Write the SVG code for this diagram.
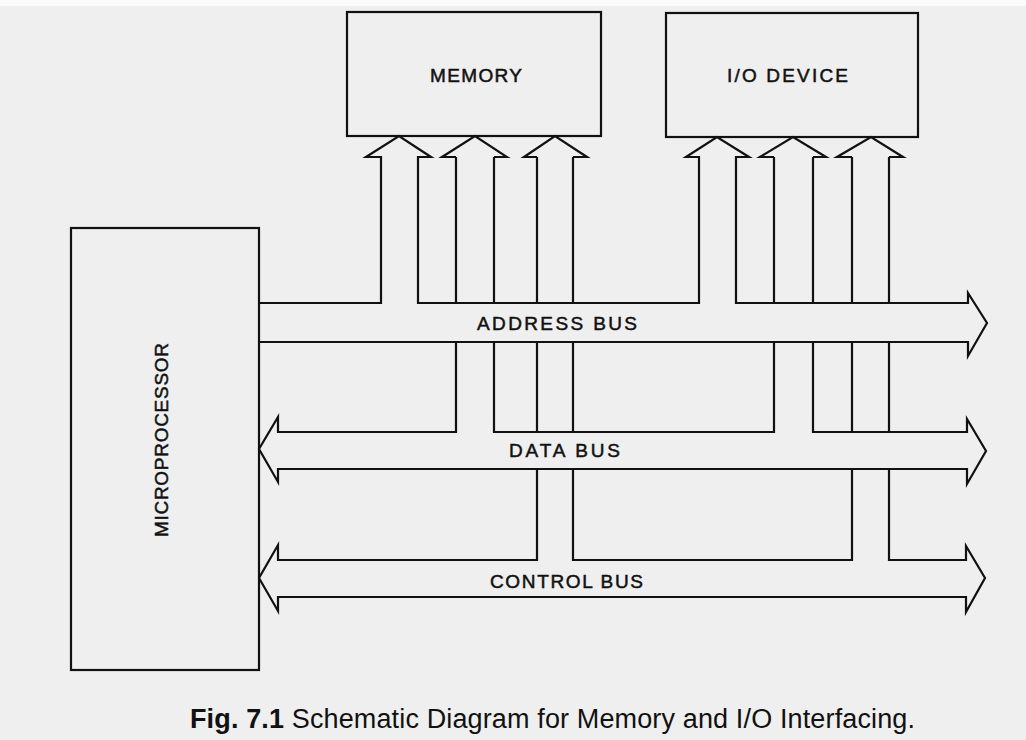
<svg xmlns="http://www.w3.org/2000/svg" width="1026" height="740" viewBox="0 0 1026 740">
<style>
.ln{fill:none;stroke:#111;stroke-width:2.2;stroke-linejoin:miter}
.box{fill:none;stroke:#111;stroke-width:2.2}
.lbl{font-family:"Liberation Sans",Arial,sans-serif;font-size:19px;fill:#111;stroke:#111;stroke-width:0.5}
.cap{font-family:"Liberation Sans",Arial,sans-serif;font-size:27px;fill:#111}
</style>
<rect x="0" y="0" width="1026" height="740" fill="#efefef"/>
<rect x="0" y="0" width="1026" height="6" fill="#fbfbfb"/>

<g id="microprocessor">
<rect class="box" x="71" y="228" width="188" height="442"/>
<text class="lbl" transform="translate(168,537) rotate(-90)" textLength="194" lengthAdjust="spacing" font-size="20">MICROPROCESSOR</text>
</g>
<g id="memory">
<rect class="box" x="347" y="12" width="254" height="124"/>
<text class="lbl" x="430" y="82" textLength="92" lengthAdjust="spacing" font-size="21">MEMORY</text>
</g>
<g id="io-device">
<rect class="box" x="666" y="13" width="252" height="124"/>
<text class="lbl" x="727" y="82" textLength="121" lengthAdjust="spacing" font-size="21">I/O DEVICE</text>
</g>

<g id="connectors">
<!-- Address bus with address arrows to memory and I/O -->
<path class="ln" d="M259,303 H381 V157 H366 L399,136 L431,157 H418 V303 H699 V157 H686 L717,137 L749,157 H736 V303 H968 V293 L987,323 L968,356 V342 H259"/>
<!-- Data bus -->
<path class="ln" d="M456,157 H442 L475,136 L507,157 H494 M456,157 V303 M494,157 V303 M456,342 V432 H278 V417 L259,449 L278,482 V469 H967 V484 L986,451 L967,419 V432 H813 V342 M774,342 V432 H494 V342 M774,157 V303 M813,157 V303 M774,157 H760 L793,137 L826,157 H813"/>
<!-- Control bus -->
<path class="ln" d="M537,157 H524 L555,136 L587,157 H573 M537,157 V303 M573,157 V303 M537,342 V432 M573,342 V432 M537,469 V560 H278 V545 L259,578 L278,611 V597 H966 V612 L985,578 L966,546 V560 H889 V469 M852,469 V560 H573 V469 M852,342 V432 M889,342 V432 M852,157 V303 M889,157 V303 M852,157 H837 L871,137 L903,157 H889"/>
</g>

<g id="bus-labels">
<text class="lbl" x="477" y="330" textLength="160" lengthAdjust="spacing">ADDRESS BUS</text>
<text class="lbl" x="509" y="457" textLength="111" lengthAdjust="spacing">DATA BUS</text>
<text class="lbl" x="490" y="588" textLength="153" lengthAdjust="spacing">CONTROL BUS</text>
</g>

<g id="caption">
<text class="cap" x="190" y="728" textLength="725" lengthAdjust="spacing"><tspan font-weight="bold">Fig. 7.1</tspan> Schematic Diagram for Memory and I/O Interfacing.</text>
</g>
</svg>
